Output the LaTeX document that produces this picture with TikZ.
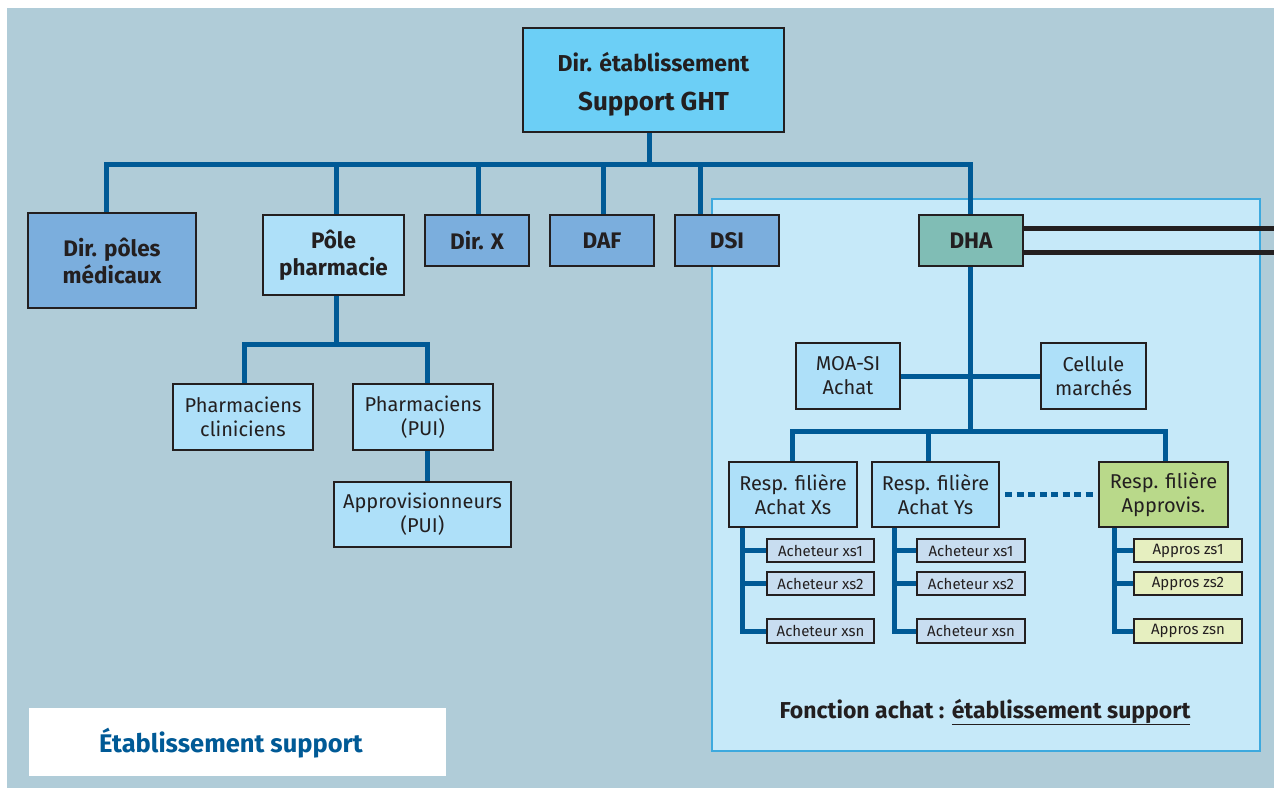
\documentclass[tikz,border=0pt]{standalone}
\usepackage{fontspec}
\setmainfont{Fira Sans}
\definecolor{bgc}{HTML}{B0CCD8}
\definecolor{ink}{HTML}{231F20}
\definecolor{lineblue}{HTML}{005A96}
\definecolor{topfill}{HTML}{6CCFF6}
\definecolor{midfill}{HTML}{7BAEDD}
\definecolor{lightfill}{HTML}{AEE0F9}
\definecolor{dhafill}{HTML}{80BDB5}
\definecolor{zonefill}{HTML}{C6E9F9}
\definecolor{zoneedge}{HTML}{3DA9DE}
\definecolor{greenfill}{HTML}{B9D98A}
\definecolor{buyfill}{HTML}{C8DDF0}
\definecolor{supfill}{HTML}{E6EFC0}
\begin{document}
\begin{tikzpicture}[x=1pt,y=-1pt,
  box/.style={draw=ink, line width=2.2pt, inner sep=0pt, align=center, text=ink},
  boldtxt/.style={font=\bfseries\fontsize{22.5}{27}\selectfont},
  regtxt/.style={font=\fontsize{20}{24}\selectfont},
  smalltxt/.style={font=\fontsize{15}{18}\selectfont},
  conn/.style={draw=lineblue, line width=5pt, line join=miter},
  smallbox/.style={box, line width=1.8pt, smalltxt, minimum height=23.5pt}
]
\useasboundingbox (0,0) rectangle (1274,788);
\fill[white] (0,0) rectangle (1274,788);
\fill[bgc] (7,8) rectangle (1274,788);

% purchasing zone
\draw[fill=zonefill, draw=zoneedge, line width=1.5pt] (712,199) rectangle (1260,751);

% head of the chart
\node[box, fill=topfill, minimum width=261pt, minimum height=104pt] (top) at (653.5,80)
  {\bfseries\fontsize{23}{27}\selectfont\rule{0pt}{28pt}Dir. établissement\\\bfseries\fontsize{26}{31}\selectfont\rule{0pt}{37pt}Support GHT};

% first level
\node[box, boldtxt, fill=midfill, minimum width=168pt, minimum height=95pt] (dpm) at (112,260.5) {Dir. pôles\\médicaux};
\node[box, boldtxt, fill=lightfill, minimum width=141pt, minimum height=80pt] (pp) at (333.5,255) {Pôle\\pharmacie};
\node[box, boldtxt, fill=midfill, minimum width=104pt, minimum height=51pt] (dx) at (477,240.5) {Dir. X};
\node[box, boldtxt, fill=midfill, minimum width=104pt, minimum height=51pt] (daf) at (602,240.5) {DAF};
\node[box, boldtxt, fill=midfill, minimum width=104pt, minimum height=51pt] (dsi) at (727,240.5) {DSI};
\node[box, boldtxt, fill=dhafill, minimum width=104pt, minimum height=51pt] (dha) at (971,240.5) {DHA};

% pharmacy branch
\node[box, regtxt, fill=lightfill, minimum width=140pt, minimum height=66pt] (pc) at (243,417) {Pharmaciens\\cliniciens};
\node[box, regtxt, fill=lightfill, minimum width=140pt, minimum height=66pt] (pu) at (423,417) {Pharmaciens\\(PUI)};
\node[box, regtxt, fill=lightfill, minimum width=177pt, minimum height=65pt] (ap) at (422.5,514.5) {Approvisionneurs\\(PUI)};

% purchasing branch
\node[box, regtxt, fill=lightfill, minimum width=104pt, minimum height=66pt] (moa) at (848,376) {MOA-SI\\Achat};
\node[box, regtxt, fill=lightfill, minimum width=105pt, minimum height=66pt] (cel) at (1093.5,376) {Cellule\\marchés};
\node[box, regtxt, fill=lightfill, minimum width=128pt, minimum height=65pt] (rx) at (793,494.5) {Resp. filière\\Achat Xs};
\node[box, regtxt, fill=lightfill, minimum width=127pt, minimum height=65pt] (ry) at (935.5,494.5) {Resp. filière\\Achat Ys};
\node[box, regtxt, fill=greenfill, minimum width=129pt, minimum height=65pt] (rz) at (1163.5,494.5) {Resp. filière\\Approvis.};

\node[smallbox, fill=buyfill, minimum width=107pt] (x1) at (820.5,550.5) {Acheteur xs1};
\node[smallbox, fill=buyfill, minimum width=107pt] (x2) at (820.5,583.5) {Acheteur xs2};
\node[smallbox, fill=buyfill, minimum width=107pt] (x3) at (820.5,631) {Acheteur xsn};
\node[smallbox, fill=buyfill, minimum width=108pt] (y1) at (971,550.5) {Acheteur xs1};
\node[smallbox, fill=buyfill, minimum width=108pt] (y2) at (971,583.5) {Acheteur xs2};
\node[smallbox, fill=buyfill, minimum width=108pt] (y3) at (971,631) {Acheteur xsn};
\node[smallbox, fill=supfill, minimum width=108pt] (z1) at (1188,550.5) {Appros zs1};
\node[smallbox, fill=supfill, minimum width=108pt] (z2) at (1188,583.5) {Appros zs2};
\node[smallbox, fill=supfill, minimum width=108pt] (z3) at (1188,631) {Appros zsn};

% captions
\node[font=\bfseries\fontsize{23}{27}\selectfont, text=ink] (cap) at (985,712)
  {Fonction achat : \underline{établissement support}};
\node[fill=white, minimum width=417pt, minimum height=68pt, inner sep=0pt] (lbl) at (237.5,742) {};
\node[font=\bfseries\fontsize{25.5}{30}\selectfont, text=lineblue] (lbltxt) at (231,743) {Établissement support};

% main bus
\draw[conn] (dpm.north -| 106,0) -- (106,164) -- (970,164) -- (dha.north -| 970,0);
\draw[conn] (top.south -| 649,0) -- (649,164);
\draw[conn] (pp.north -| 336,0) -- (336,164);
\draw[conn] (dx.north -| 478,0) -- (478,164);
\draw[conn] (daf.north -| 603,0) -- (603,164);
\draw[conn] (dsi.north -| 700,0) -- (700,164);

% pharmacy links
\draw[conn] (pp.south -| 336,0) -- (336,344);
\draw[conn] (pc.north -| 244,0) -- (244,344) -- (427,344) -- (pu.north -| 427,0);
\draw[conn] (pu.south -| 427,0) -- (ap.north -| 427,0);

% purchasing links
\draw[conn] (dha.south -| 970,0) -- (970,431);
\draw[conn] (moa.east) -- (cel.west);
\draw[conn] (rx.north -| 792,0) -- (792,431) -- (1165,431) -- (rz.north -| 1165,0);
\draw[conn] (ry.north -| 928,0) -- (928,431);
\draw[lineblue, line width=5pt, dash pattern=on 7pt off 4.5pt, shorten <=5pt, shorten >=4pt] (ry.east) -- (rz.west);

\draw[conn] (rx.south -| 742,0) |- (x3.west);
\draw[conn] (x1.west -| 742,0) -- (x1.west);
\draw[conn] (x2.west -| 742,0) -- (x2.west);
\draw[conn] (ry.south -| 894,0) |- (y3.west);
\draw[conn] (y1.west -| 894,0) -- (y1.west);
\draw[conn] (y2.west -| 894,0) -- (y2.west);
\draw[conn] (rz.south -| 1114,0) |- (z3.west);
\draw[conn] (z1.west -| 1114,0) -- (z1.west);
\draw[conn] (z2.west -| 1114,0) -- (z2.west);

% links leaving the purchasing head
\coordinate (out1) at (1274,228);
\coordinate (out2) at (1274,252);
\draw[ink, line width=5pt] (dha.east |- out1) -- (out1);
\draw[ink, line width=5pt] (dha.east |- out2) -- (out2);
\end{tikzpicture}
\end{document}
